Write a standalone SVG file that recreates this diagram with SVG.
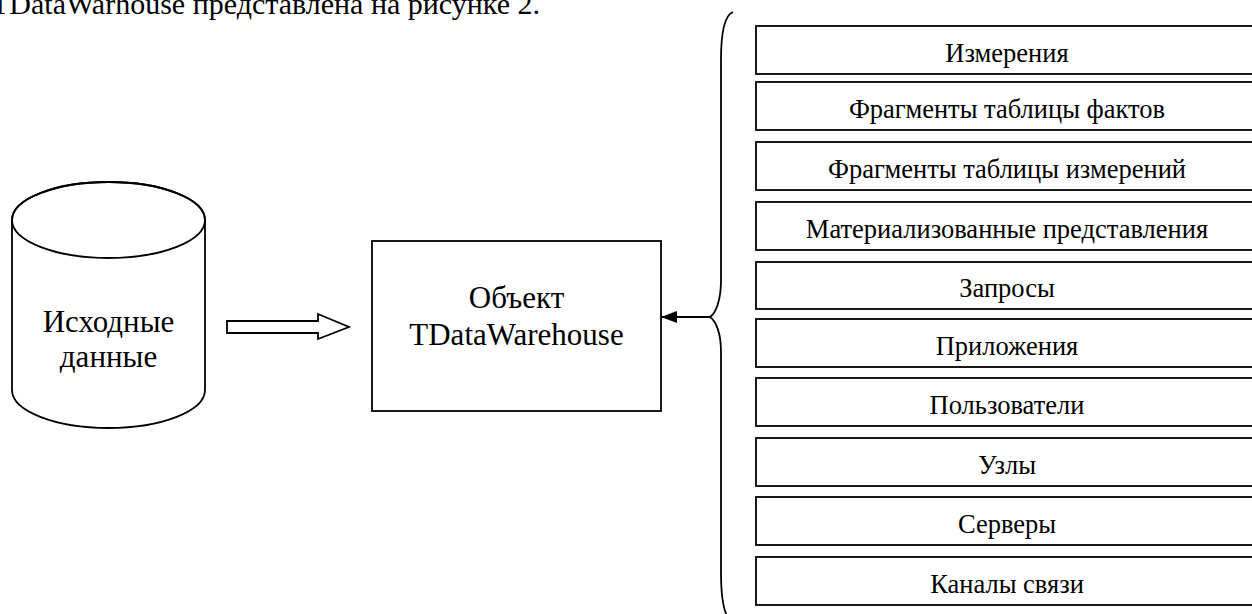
<svg xmlns="http://www.w3.org/2000/svg" width="1252" height="614" viewBox="0 0 1252 614">
<style>
.ln{fill:none;stroke:#000;stroke-width:1.8}
.bx{fill:#fff;stroke:#000;stroke-width:1.8}
.t{font-family:"Liberation Serif","Times New Roman",serif;fill:#000;text-anchor:middle}
.lb{font-size:26.5px}
.big{font-size:31px}
</style>
<defs>
<marker id="ah" markerWidth="16" markerHeight="12" refX="16" refY="6" orient="auto" markerUnits="userSpaceOnUse">
<path d="M0,0 L16,6 L0,12 Z" fill="#000"/>
</marker>
</defs>
<text x="-9" y="14" font-family="Liberation Serif, serif" font-size="30" fill="#000">TDataWarhouse представлена на рисунке 2.</text>
<g id="source">
<path class="bx" d="M12,220 L12,390 A96.5,38 0 0 0 205,390 L205,220 A96.5,38 0 0 0 12,220 Z"/>
<ellipse class="ln" cx="108.5" cy="220" rx="96.5" ry="38"/>
<text class="t big" x="108.5" y="332">Исходные</text>
<text class="t big" x="108.5" y="367">данные</text>
</g>
<g id="object">
<rect class="bx" x="372" y="241" width="289" height="170"/>
<text class="t big" x="516.5" y="308">Объект</text>
<text class="t big" x="516.5" y="345">TDataWarehouse</text>
</g>
<g id="connectors">
<polygon class="bx" stroke-width="1.5" points="227,321 318,321 318,314 349,327 318,339 318,333 227,333"/>
<path class="ln" d="M710,317 L661,317" marker-end="url(#ah)"/>
<path class="ln" d="M733,12 C725,15 721,30 721,60 L721,280 C721,300 716,313 710,317 C716,321 721,333 721,352 L721,572 C721,602 725,619 733,622"/>
</g>
<g id="b1"><rect class="bx" x="756" y="26" width="504" height="48"/><text class="t lb" x="1007" y="62">Измерения</text></g>
<g id="b2"><rect class="bx" x="756" y="82" width="504" height="48"/><text class="t lb" x="1007" y="118">Фрагменты таблицы фактов</text></g>
<g id="b3"><rect class="bx" x="756" y="142" width="504" height="48"/><text class="t lb" x="1007" y="178">Фрагменты таблицы измерений</text></g>
<g id="b4"><rect class="bx" x="756" y="202" width="504" height="48"/><text class="t lb" x="1007" y="238">Материализованные представления</text></g>
<g id="b5"><rect class="bx" x="756" y="262" width="504" height="47"/><text class="t lb" x="1007" y="297">Запросы</text></g>
<g id="b6"><rect class="bx" x="756" y="319" width="504" height="48"/><text class="t lb" x="1007" y="355">Приложения</text></g>
<g id="b7"><rect class="bx" x="756" y="378" width="504" height="48"/><text class="t lb" x="1007" y="414">Пользователи</text></g>
<g id="b8"><rect class="bx" x="756" y="438" width="504" height="48"/><text class="t lb" x="1007" y="474">Узлы</text></g>
<g id="b9"><rect class="bx" x="756" y="497" width="504" height="48"/><text class="t lb" x="1007" y="533">Серверы</text></g>
<g id="b10"><rect class="bx" x="756" y="557" width="504" height="48"/><text class="t lb" x="1007" y="593">Каналы связи</text></g>
</svg>
